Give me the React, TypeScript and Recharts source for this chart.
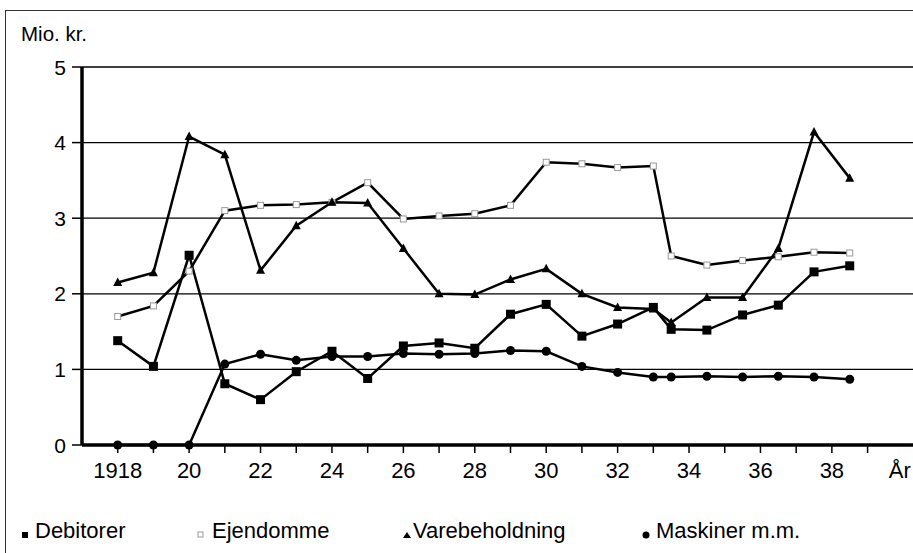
import React from 'react';
import { LineChart, Line, XAxis, YAxis, CartesianGrid } from 'recharts';

const years = [1918, 1919, 1920, 1921, 1922, 1923, 1924, 1925, 1926, 1927, 1928, 1929, 1930, 1931, 1932, 1933, 1933.5, 1934.5, 1935.5, 1936.5, 1937.5, 1938.5];
const debitorer = [1.38, 1.04, 2.51, 0.81, 0.6, 0.97, 1.24, 0.88, 1.31, 1.35, 1.28, 1.73, 1.86, 1.44, 1.6, 1.82, 1.53, 1.52, 1.72, 1.85, 2.29, 2.37];
const ejendomme = [1.7, 1.84, 2.3, 3.1, 3.17, 3.18, 3.21, 3.47, 2.99, 3.03, 3.06, 3.17, 3.74, 3.72, 3.67, 3.69, 2.5, 2.38, 2.44, 2.49, 2.55, 2.54];
const varebeholdning = [2.15, 2.28, 4.08, 3.84, 2.31, 2.9, 3.21, 3.2, 2.6, 2.0, 1.99, 2.19, 2.33, 2.0, 1.82, 1.8, 1.62, 1.95, 1.95, 2.6, 4.14, 3.53];
const maskiner = [0, 0, 0, 1.07, 1.2, 1.12, 1.17, 1.17, 1.21, 1.2, 1.21, 1.25, 1.24, 1.04, 0.96, 0.9, 0.9, 0.91, 0.9, 0.91, 0.9, 0.87];

const yTicks = [0, 1, 2, 3, 4, 5];
const xTicks = [1918, 1919, 1920, 1921, 1922, 1923, 1924, 1925, 1926, 1927, 1928, 1929, 1930, 1931, 1932, 1933, 1934, 1935, 1936, 1937, 1938, 1939];
const unitLabel = 'År';
const unitPos = 1939.9;
const yTitle = 'Mio. kr.';

const font = '"Liberation Sans", Arial, Helvetica, sans-serif';

const data = years.map((year, i) => ({
  year,
  debitorer: debitorer[i],
  ejendomme: ejendomme[i],
  varebeholdning: varebeholdning[i],
  maskiner: maskiner[i],
}));

const yearLabel = (v: number) => {
  if (v === unitPos) return unitLabel;
  if (v === 1918) return '1918';
  if (v % 2 === 0) return String(v).slice(2);
  return '';
};

const XTick = (props: any) => {
  const { x, y, payload } = props;
  const v = payload.value;
  return (
    <g>
      {v !== unitPos && <line x1={x} x2={x} y1={y} y2={y + 8} stroke="#000" strokeWidth={1.5} />}
      <text x={x} y={y + 33} textAnchor="middle" fontSize={22} fontFamily={font} fill="#000">
        {yearLabel(v)}
      </text>
    </g>
  );
};

const YTick = (props: any) => {
  const { x, y, payload } = props;
  return (
    <g>
      <line x1={x - 10} x2={x} y1={y} y2={y} stroke="#000" strokeWidth={1.5} />
      <text x={x - 16} y={y + 7.5} textAnchor="end" fontSize={21} fontFamily={font} fill="#000">
        {payload.value}
      </text>
    </g>
  );
};

const SquareDot = (props: any) => {
  const { cx, cy } = props;
  return <rect x={cx - 4.5} y={cy - 4.5} width={9} height={9} fill="#000" />;
};
const HollowDot = (props: any) => {
  const { cx, cy } = props;
  return <rect x={cx - 3} y={cy - 3} width={6} height={6} fill="#fff" stroke="#999" strokeWidth={1} />;
};
const TriangleDot = (props: any) => {
  const { cx, cy } = props;
  return <path d={`M${cx},${cy - 5} L${cx + 4.5},${cy + 3.5} L${cx - 4.5},${cy + 3.5} Z`} fill="#000" />;
};
const CircleDot = (props: any) => {
  const { cx, cy } = props;
  return <circle cx={cx} cy={cy} r={4.5} fill="#000" />;
};

const legendText: React.CSSProperties = { position: 'absolute', top: 519, fontSize: 22, fontFamily: font, color: '#000', lineHeight: '24px' };

export default function App() {
  return (
    <div style={{ position: 'fixed', left: 0, top: 0, width: 913, height: 553, overflow: 'hidden', background: '#fff' }}>
      <div style={{ position: 'absolute', left: 5, top: 10, width: 1000, height: 1000, borderLeft: '1.5px solid #333', borderTop: '1.5px solid #333' }} />
      <div style={{ position: 'absolute', left: 21, top: 22, fontSize: 20.5, fontFamily: font, color: '#000' }}>{yTitle}</div>
      <div style={{ position: 'absolute', left: 0, top: 0 }}>
        <LineChart width={960} height={500} data={data} margin={{ top: 67, right: 46, left: 22, bottom: 15 }}>
          <CartesianGrid vertical={false} stroke="#000" strokeWidth={1.3} />
          <XAxis
            dataKey="year"
            type="number"
            domain={[1917, 1940.3]}
            ticks={[...xTicks, unitPos]}
            interval={0}
            allowDataOverflow
            height={40}
            tickSize={0}
            tickMargin={0}
            tick={<XTick />}
            axisLine={{ stroke: '#000', strokeWidth: 3.5 }}
          />
          <YAxis
            type="number"
            domain={[0, 5]}
            ticks={yTicks}
            interval={0}
            width={60}
            tickSize={0}
            tickMargin={0}
            tick={<YTick />}
            axisLine={{ stroke: '#000', strokeWidth: 3.5 }}
          />
          <Line dataKey="maskiner" stroke="#000" strokeWidth={2.5} dot={(p: any) => <CircleDot key={p.index} {...p} />} isAnimationActive={false} />
          <Line dataKey="debitorer" stroke="#000" strokeWidth={2.5} dot={(p: any) => <SquareDot key={p.index} {...p} />} isAnimationActive={false} />
          <Line dataKey="ejendomme" stroke="#000" strokeWidth={2.5} dot={(p: any) => <HollowDot key={p.index} {...p} />} isAnimationActive={false} />
          <Line dataKey="varebeholdning" stroke="#000" strokeWidth={2.5} dot={(p: any) => <TriangleDot key={p.index} {...p} />} isAnimationActive={false} />
        </LineChart>
      </div>
      <svg style={{ position: 'absolute', left: 0, top: 0 }} width={913} height={553}>
        <rect x={22} y={532} width={6} height={6} fill="#000" />
        <rect x={198} y={532} width={5} height={5} fill="#fff" stroke="#999" strokeWidth={1} />
        <path d="M407,532 L411,538 L403,538 Z" fill="#000" />
        <circle cx={646} cy={535} r={3.5} fill="#000" />
      </svg>
      <div style={{ ...legendText, left: 35 }}>Debitorer</div>
      <div style={{ ...legendText, left: 212 }}>Ejendomme</div>
      <div style={{ ...legendText, left: 413 }}>Varebeholdning</div>
      <div style={{ ...legendText, left: 656 }}>Maskiner m.m.</div>
    </div>
  );
}
